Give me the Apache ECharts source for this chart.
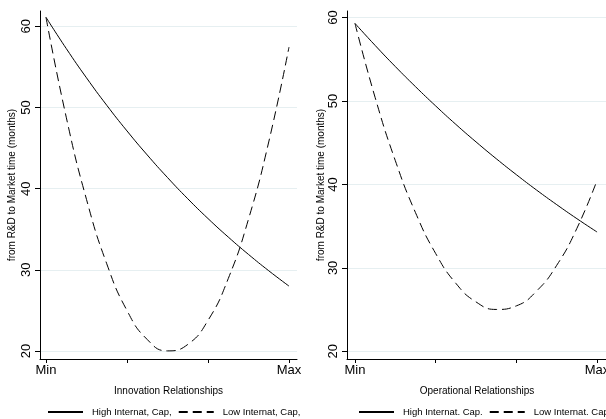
<!DOCTYPE html>
<html>
<head>
<meta charset="utf-8">
<script src="https://cdn.jsdelivr.net/npm/echarts@6/dist/echarts.min.js"></script>
<style>
  html, body { margin: 0; padding: 0; background: #fff; overflow: hidden; }
  #chart { width: 640px; height: 419px; }
</style>
</head>
<body>
<div id="chart"></div>
<script>
// Position along each relationship scale (Min = 0 ... Max = 3)
const xPos = [0, 0.25, 0.5, 0.75, 1, 1.25, 1.5, 1.75, 2, 2.25, 2.5, 2.75, 3];

// Innovation relationships: predicted R&D-to-market time (months)
const innovHigh = [61.1, 57.26, 53.65, 50.27, 47.11, 44.15, 41.37, 38.76, 36.32, 34.04, 31.90, 29.89, 28.0];
const innovLow  = [61.1, 48.80, 38.68, 30.75, 24.99, 21.42, 20.02, 20.81, 23.77, 28.92, 36.24, 45.75, 57.43];

// Operational relationships: predicted R&D-to-market time (months)
const operHigh = [59.3, 56.66, 54.13, 51.72, 49.41, 47.20, 45.10, 43.09, 41.17, 39.33, 37.58, 35.90, 34.3];
const operLow  = [59.3, 50.41, 42.85, 36.62, 31.72, 28.15, 25.92, 25.02, 25.45, 27.22, 30.31, 34.74, 40.5];

// Axis ticks and labels
const xTicks = [0, 1, 2, 3];
const xLabelTicks = [0, 3];
const xTickText = { 0: 'Min', 3: 'Max' };
const yTicks = [20, 30, 40, 50, 60];

const leftNames = ['High Internat, Cap,', 'Low Internat, Cap,'];
const rightNames = ['High Internat. Cap.', 'Low Internat. Cap.'];
const xTitles = ['Innovation Relationships', 'Operational Relationships'];
const yTitle = 'from R&D to Market time (months)';

const FONT = '"Liberation Sans", Arial, Helvetica, sans-serif';
const pairs = (ys) => xPos.map((x, i) => [x, ys[i]]);

function xAxisFor(idx, min, max) {
  return {
    type: 'value', gridIndex: idx, min: min, max: max,
    name: xTitles[idx], nameLocation: 'middle', nameGap: 27,
    nameTextStyle: { fontFamily: FONT, fontSize: 10, color: '#000' },
    axisLine: { show: true, onZero: false, lineStyle: { color: '#000', width: 1 } },
    axisTick: { show: true, length: 4, customValues: xTicks, lineStyle: { color: '#000' } },
    axisLabel: {
      customValues: xLabelTicks, margin: 5,
      fontFamily: FONT, fontSize: 13, color: '#000',
      formatter: (v) => xTickText[v] || ''
    },
    splitLine: { show: false }
  };
}

function yAxisFor(idx, min, max, gap) {
  return {
    type: 'value', gridIndex: idx, min: min, max: max,
    name: yTitle, nameLocation: 'middle', nameRotate: 90, nameGap: gap,
    nameTextStyle: { fontFamily: FONT, fontSize: 10, color: '#000' },
    axisLine: { show: true, onZero: false, lineStyle: { color: '#000', width: 1 } },
    axisTick: { show: true, length: 5, customValues: yTicks, lineStyle: { color: '#000' } },
    axisLabel: {
      customValues: yTicks, rotate: 90, margin: 7,
      fontFamily: FONT, fontSize: 13, color: '#000'
    },
    splitLine: { show: true, lineStyle: { color: '#e6eff1', width: 1 } }
  };
}

function lineSeries(name, idx, ys, dashed) {
  return {
    name: name, type: 'line', xAxisIndex: idx, yAxisIndex: idx,
    data: pairs(ys), smooth: true, symbol: 'none', animation: false,
    lineStyle: { color: '#000', width: 1, type: dashed ? [9, 5] : 'solid' },
    itemStyle: { color: '#000' }
  };
}

function legendFor(names, left) {
  return {
    data: names, left: left, top: 407, padding: 0,
    width: 400, itemWidth: 35, itemHeight: 10, itemGap: 6,
    itemStyle: { opacity: 0 },
    textStyle: { fontFamily: FONT, fontSize: 9.5, color: '#000', padding: [0, 0, 0, 4] },
    selectedMode: false
  };
}

const chart = echarts.init(document.getElementById('chart'), null, { renderer: 'canvas' });
chart.setOption({
  backgroundColor: '#fff',
  animation: false,
  grid: [
    { left: 40, top: 11, width: 257, height: 348, outerBoundsMode: 'none', containLabel: false },
    { left: 347, top: 11, width: 260, height: 348, outerBoundsMode: 'none', containLabel: false }
  ],
  xAxis: [xAxisFor(0, -0.074, 3.099), xAxisFor(1, -0.099, 3.123)],
  yAxis: [yAxisFor(0, 19.02, 61.88, 23), yAxisFor(1, 19.08, 60.79, 20)],
  legend: [legendFor(leftNames, 47), legendFor(rightNames, 358)],
  series: [
    lineSeries(leftNames[0], 0, innovHigh, false),
    lineSeries(leftNames[1], 0, innovLow, true),
    lineSeries(rightNames[0], 1, operHigh, false),
    lineSeries(rightNames[1], 1, operLow, true)
  ]
});
</script>
</body>
</html>
